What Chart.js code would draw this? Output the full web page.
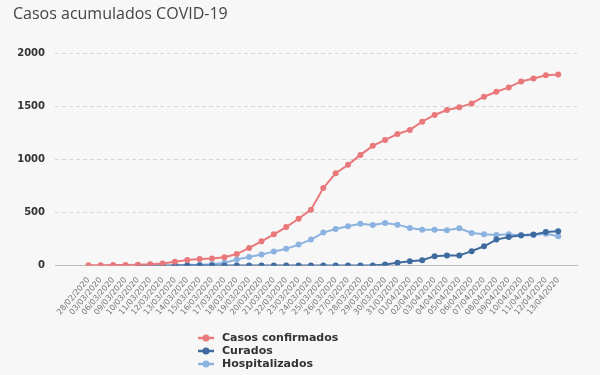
<!DOCTYPE html>
<html>
<head>
<meta charset="utf-8">
<script src="https://cdn.jsdelivr.net/npm/chart.js@4.4.1/dist/chart.umd.min.js"></script>
<style>
  html, body { margin: 0; padding: 0; background: #f7f7f7; }
  #wrap { position: relative; width: 600px; height: 375px; }
  #legend { position: absolute; left: 198px; top: 331px; font: bold 11px "DejaVu Sans", sans-serif; color: #333; }
  #legend div { height: 13px; line-height: 13px; display: flex; align-items: center; }
  #legend canvas { margin-right: 8px; }
</style>
</head>
<body>
<div id="wrap">
  <canvas id="chartCanva" width="600" height="375"></canvas>
  <div id="legend"></div>
</div>
<script>
    let dates = ['28/02/2020', '03/03/2020', '06/03/2020',
        '09/03/2020', '10/03/2020', '11/03/2020', '12/03/2020', '13/03/2020', '14/03/2020', '15/03/2020',
        '16/03/2020', '17/03/2020', '18/03/2020', '19/03/2020', '20/03/2020', '21/03/2020', '22/03/2020',
        '23/03/2020', '24/03/2020', '25/03/2020', '26/03/2020', '27/03/2020', '28/03/2020', '29/03/2020',
        '30/03/2020', '31/03/2020', '01/04/2020', '02/04/2020', '03/04/2020', '04/04/2020', '05/04/2020',
        '06/04/2020', '07/04/2020', '08/04/2020', '09/04/2020', '10/04/2020', '11/04/2020', '12/04/2020',
        '13/04/2020']

    let confirmados = [3, 3, 4, 5, 8, 12, 20, 35, 52, 62, 66, 78, 108, 166, 228, 294, 362, 440, 526, 730,
        870, 948, 1042, 1127, 1183, 1239, 1277, 1355, 1418, 1465, 1490, 1527, 1590, 1637, 1678, 1734, 1762, 1793, 1800]

    let curados = [null, null, null, null, 0, 0, 0, 0, 0, 0, 0, 0, 0, 0, 0, 0, 0, 0, 0, 0,
        0, 0, 0, 0, 9, 25, 41, 50, 88, 94, 94, 135, 181, 244, 269, 285, 291, 316, 322]

    let hospitalizados = [null, null, null, null, null, null, null, 3, 5, 8, 12, 25, 56, 81, 103, 131, 157, 197, 244, 310,
        344, 369, 394, 382, 401, 385, 354, 338, 338, 332, 351, 307, 294, 288, 294, 282, 288, 300, 275]

    let yTicks = [0, 500, 1000, 1500, 2000]

    let seriesNames = ['Casos confirmados', 'Curados', 'Hospitalizados']
    let seriesColors = ['#e9787b', '#3f6b9f', '#8cb2e0']
    let seriesValues = [confirmados, curados, hospitalizados]

    // linear x so the points sit inside the plot like in the original
    const datasets = seriesValues.map((vals, s) => ({
        label: seriesNames[s],
        data: vals.map((v, i) => ({ x: i, y: v })),
        borderColor: seriesColors[s],
        backgroundColor: seriesColors[s],
        borderWidth: 2,
        pointRadius: 2,
        pointHoverRadius: 3,
        tension: 0,
        spanGaps: false
    }))

    const config = {
        type: 'line',
        data: { datasets: datasets },
        options: {
            responsive: false,
            animation: false,
            layout: { padding: { left: 13, right: 22, top: 2, bottom: 56 } },
            plugins: {
                legend: { display: false },
                tooltip: { enabled: false },
                title: {
                    display: true,
                    text: 'Casos acumulados COVID-19',
                    align: 'start',
                    color: '#444',
                    font: { family: '"Open Sans", sans-serif', size: 16, weight: 'normal' },
                    padding: { top: 3, bottom: 29 }
                }
            },
            scales: {
                x: {
                    type: 'linear',
                    min: -2.7,
                    max: 39.6,
                    afterBuildTicks: (axis) => {
                        axis.ticks = dates.map((d, i) => ({ value: i }))
                    },
                    grid: { display: false },
                    border: { display: false },
                    ticks: {
                        autoSkip: false,
                        minRotation: 50,
                        maxRotation: 50,
                        padding: 2,
                        color: '#777',
                        font: { family: '"DejaVu Sans", sans-serif', size: 8 },
                        callback: (v) => dates[v]
                    }
                },
                y: {
                    min: 0,
                    max: 2000,
                    afterBuildTicks: (axis) => {
                        axis.ticks = yTicks.map((v) => ({ value: v }))
                    },
                    afterFit: (axis) => { axis.width = 42 },
                    border: { display: false, dash: (ctx) => ctx.tick && ctx.tick.value === 0 ? [] : [4, 3] },
                    grid: {
                        drawTicks: false,
                        color: (ctx) => ctx.tick && ctx.tick.value === 0 ? '#bbbbbb' : '#d6d6d6',
                        lineWidth: 1
                    },
                    ticks: {
                        padding: 10,
                        color: '#333',
                        font: { family: '"DejaVu Sans", sans-serif', size: 10, weight: 'bold' },
                        callback: (v) => String(v)
                    }
                }
            }
        }
    }

    const myChart = new Chart(document.getElementById('chartCanva'), config)

    // legend as a vertical list under the chart
    const legendBox = document.getElementById('legend')
    seriesNames.forEach((name, s) => {
        let row = document.createElement('div')
        let mark = document.createElement('canvas')
        mark.width = 16
        mark.height = 10
        let c = mark.getContext('2d')
        c.strokeStyle = seriesColors[s]
        c.fillStyle = seriesColors[s]
        c.lineWidth = 2.5
        c.beginPath(); c.moveTo(0, 5); c.lineTo(16, 5); c.stroke()
        c.beginPath(); c.arc(8, 5, 3.5, 0, Math.PI * 2); c.fill()
        row.appendChild(mark)
        let txt = document.createElement('span')
        txt.textContent = name
        row.appendChild(txt)
        legendBox.appendChild(row)
    })
</script>
</body>
</html>
